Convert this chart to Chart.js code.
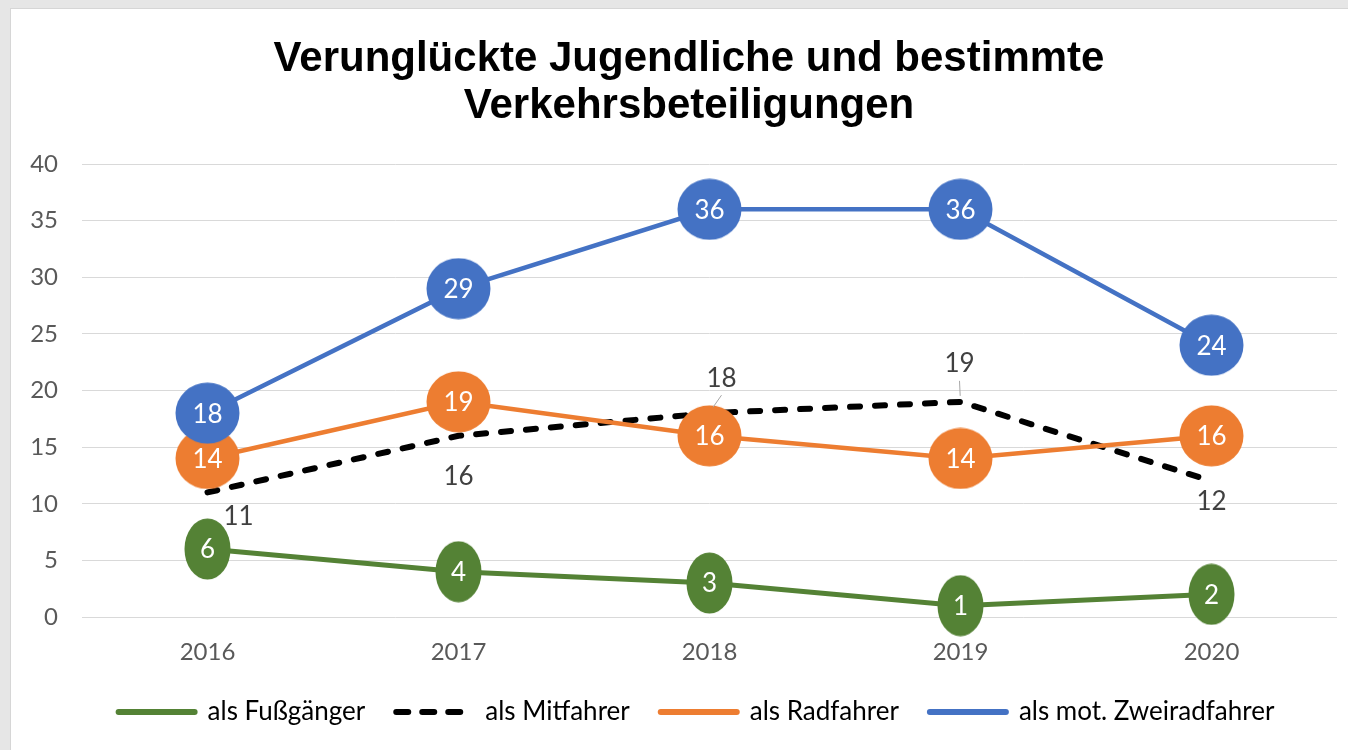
<!DOCTYPE html>
<html>
<head>
<meta charset="utf-8">
<script src="https://cdn.jsdelivr.net/npm/chart.js@4.4.1/dist/chart.umd.min.js"></script>
<style>
  html, body { margin: 0; padding: 0; background: #e6e6e6; overflow: hidden; }
  #wrap { position: absolute; left: 10px; top: 8px; width: 1338px; height: 742px; background: #fff; border-left: 1px solid #d6d6d6; border-top: 1px solid #d6d6d6; box-sizing: border-box; overflow: hidden; }
  #grafica { display: block; }
</style>
</head>
<body>
<div id="wrap"><canvas id="grafica" width="1357" height="741"></canvas></div>
<script>
const jahre = ['2016', '2017', '2018', '2019', '2020'];
const fussgaenger = [6, 4, 3, 1, 2];
const mitfahrer = [11, 16, 18, 19, 12];
const radfahrer = [14, 19, 16, 14, 16];
const zweiradfahrer = [18, 29, 36, 36, 24];
const serienNamen = ['als Fußgänger', 'als Mitfahrer', 'als Radfahrer', 'als mot. Zweiradfahrer'];

// label placement for the dashed series (dx, dy, leader line)
const mitLabelPos = [[31, 23, false], [0, 40, false], [12, -36, true], [-1, -39, true], [0, 19, false]];

const fontSans = 'Lato';

function ellipse(color, w, h) {
    const c = document.createElement('canvas');
    c.width = w;
    c.height = h;
    const g = c.getContext('2d');
    g.fillStyle = color;
    g.beginPath();
    g.ellipse(w / 2, h / 2, w / 2 - 0.5, h / 2 - 0.5, 0, 0, Math.PI * 2);
    g.fill();
    return c;
}

const blau = '#4472C4';
const orange = '#ED7D31';
const gruen = '#548235';

const wertLabels = {
    id: 'wertLabels',
    afterDatasetsDraw(chart) {
        const ctx = chart.ctx;
        ctx.save();
        ctx.textAlign = 'center';
        ctx.textBaseline = 'middle';
        ctx.font = '26px ' + fontSans;
        chart.data.datasets.forEach((ds, i) => {
            const meta = chart.getDatasetMeta(i);
            meta.data.forEach((pt, j) => {
                const v = ds.data[j];
                if (ds.innenLabel) {
                    ctx.fillStyle = '#ffffff';
                    ctx.fillText(String(v), pt.x, pt.y + 1);
                } else {
                    const p = mitLabelPos[j];
                    const lx = pt.x + p[0];
                    const ly = pt.y + p[1];
                    if (p[2]) {
                        ctx.strokeStyle = '#a6a6a6';
                        ctx.lineWidth = 1;
                        ctx.beginPath();
                        ctx.moveTo(lx, ly + 18);
                        ctx.lineTo(pt.x + (lx - pt.x) * 0.3, pt.y - 6);
                        ctx.stroke();
                    }
                    ctx.fillStyle = '#404040';
                    ctx.fillText(String(v), lx, ly + 1);
                }
            });
        });
        ctx.restore();
    }
};

// title and legend sit a bit right of the canvas centre in the original
const versatz = {
    id: 'versatz',
    afterLayout(chart) {
        chart.titleBlock.left += 30;
        chart.legend.left += 45;
    }
};

const grafica1 = document.getElementById('grafica').getContext('2d');
const grafica = new Chart(grafica1, {
    type: 'line',
    data: {
        labels: jahre,
        datasets: [{
            label: serienNamen[0],
            data: fussgaenger,
            borderColor: gruen,
            borderWidth: 5,
            pointStyle: ellipse(gruen, 47, 62),
            pointRadius: 30,
            innenLabel: true,
            clip: false,
            order: 3
        }, {
            label: serienNamen[1],
            data: mitfahrer,
            borderColor: '#000000',
            borderWidth: 6,
            borderDash: [10, 15],
            borderCapStyle: 'round',
            pointRadius: 0,
            innenLabel: false,
            clip: false,
            order: 2
        }, {
            label: serienNamen[2],
            data: radfahrer,
            borderColor: orange,
            borderWidth: 4.5,
            pointStyle: ellipse(orange, 65, 62),
            pointRadius: 30,
            innenLabel: true,
            clip: false,
            order: 1
        }, {
            label: serienNamen[3],
            data: zweiradfahrer,
            borderColor: blau,
            borderWidth: 4.5,
            pointStyle: ellipse(blau, 65, 62),
            pointRadius: 30,
            innenLabel: true,
            clip: false,
            order: 0
        }]
    },
    options: {
        responsive: false,
        animation: false,
        layout: { autoPadding: false, padding: { left: 0, right: 31, top: 0, bottom: 15 } },
        plugins: {
            title: {
                display: true,
                text: ['Verunglückte Jugendliche und bestimmte', 'Verkehrsbeteiligungen'],
                color: '#000000',
                font: { family: 'Liberation Sans', weight: 'bold', size: 42, lineHeight: 1.12 },
                padding: { top: 27, bottom: 34 }
            },
            legend: {
                position: 'bottom',
                labels: {
                    usePointStyle: true,
                    pointStyleWidth: 76,
                    padding: 31,
                    color: '#262626',
                    font: { family: fontSans, size: 26 },
                    generateLabels(chart) {
                        return chart.data.datasets.map((ds, i) => ({
                            text: ds.label,
                            pointStyle: 'line',
                            strokeStyle: ds.borderColor,
                            fillStyle: ds.borderColor,
                            lineWidth: 6,
                            lineCap: 'round',
                            lineDash: ds.borderDash ? [12, 14] : [],
                            datasetIndex: i
                        }));
                    }
                }
            },
            tooltip: { enabled: false }
        },
        scales: {
            x: {
                offset: true,
                grid: { display: false, drawTicks: false },
                border: { display: false },
                ticks: { color: '#595959', font: { family: fontSans, size: 24 }, padding: 21 },
                afterFit(s) { s.height = 51; s.paddingLeft = 0; s.paddingRight = 0; }
            },
            y: {
                min: 0,
                max: 40,
                grid: { color: '#d9d9d9', lineWidth: 1, drawTicks: false },
                border: { display: false },
                ticks: { stepSize: 5, color: '#595959', font: { family: fontSans, size: 24 }, padding: 24 },
                afterFit(s) { s.width = 71; s.paddingTop = 0; s.paddingBottom = 0; }
            }
        }
    },
    plugins: [wertLabels, versatz]
});
</script>
</body>
</html>
